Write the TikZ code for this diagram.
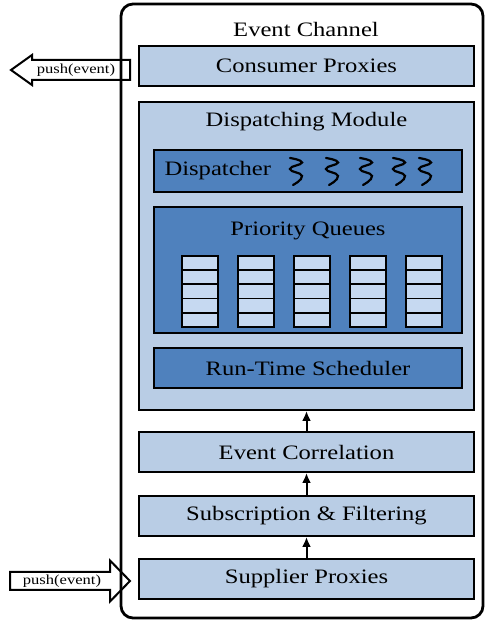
\documentclass[tikz,border=0pt]{standalone}
\usepackage{fontspec}
\setmainfont[FakeStretch=1.2]{Liberation Serif}
\usetikzlibrary{positioning,arrows.meta}
\definecolor{lightblue}{RGB}{185,205,229}
\definecolor{darkblue}{RGB}{79,129,189}
\definecolor{cellblue}{RGB}{198,217,241}
\newcommand{\bigfont}{\fontsize{20.5}{23}\selectfont}
\newcommand{\smallfont}{\fontsize{13.8}{16}\selectfont}
\tikzstyle{lightbox} = [draw=black, fill=lightblue, line width=2pt,
    rectangle, minimum width=335pt, minimum height=40pt, inner sep=0pt, font=\bigfont]
\tikzstyle{darkbox} = [draw=black, fill=darkblue, line width=2pt,
    rectangle, minimum width=308pt, minimum height=40pt, inner sep=0pt, font=\bigfont]
\tikzstyle{cell} = [draw=black, fill=cellblue, line width=1.8pt,
    minimum width=36pt, minimum height=14.2pt, inner sep=0pt]
\tikzstyle{thread} = [line width=2.2pt, line cap=round]
\tikzstyle{flow} = [-{Latex[length=10pt,width=9pt]}, line width=2pt]
\tikzstyle{pusharrow} = [draw=black, fill=white, line width=2pt, line join=miter]

\begin{document}
\begin{tikzpicture}[x=1pt, y=1pt]
    \useasboundingbox (0,0) rectangle (485,622);
    % push arrows
    \draw[pusharrow] (11,552) -- (32,567) -- (32,562) -- (130,562) -- (130,542)
        -- (32,542) -- (32,537) -- cycle;
    \node[font=\smallfont] (pushout) at (76,552) {push(event)};
    \draw[pusharrow] (130,41) -- (110,61.5) -- (110,50) -- (10,50) -- (10,32)
        -- (110,32) -- (110,20.5) -- cycle;
    \node[font=\smallfont] (pushin) at (62,41) {push(event)};
    % channel
    \draw[line width=2.8pt, rounded corners=12pt] (121,4) rectangle (483,618);
    \node[font=\bigfont] (channel) at (306,593) {Event Channel};
    \node[lightbox] (consumer) at (306.5,556) {Consumer Proxies};
    \node[lightbox, minimum height=308pt] (dispmod) at (306.5,366) {};
    \node[font=\bigfont] (dispmodtitle) at (306.5,500) {Dispatching Module};
    \node[darkbox, minimum height=42pt] (dispatcher) at (308,451) {};
    \node[font=\bigfont, anchor=west] (disptext) at (161,451) {Dispatcher};
    \foreach \x in {296,332,366,399,425}
        \draw[thread, shift={(\x,451)}] plot[smooth, tension=0.9]
            coordinates {(-6,13) (6,8.5) (-6,2) (6,-5) (-3,-14)};
    \node[darkbox, minimum height=126pt] (queues) at (308,352) {};
    \node[font=\bigfont] (queuetitle) at (308,391) {Priority Queues};
    \foreach \i in {0,...,4}
        \foreach \j in {0,...,4}
            \node[cell] (q\i\j) at (200+56*\i, 302.1+14.2*\j) {};
    \node[darkbox] (scheduler) at (308,254) {Run-Time Scheduler};
    \node[lightbox] (correlation) at (306.5,170) {Event Correlation};
    \node[lightbox] (filtering) at (306.5,106) {Subscription \& Filtering};
    \node[lightbox] (supplier) at (306.5,43) {Supplier Proxies};
    \draw[flow] (supplier.north) -- (filtering.south);
    \draw[flow] (filtering.north) -- (correlation.south);
    \draw[flow] (correlation.north) -- (dispmod.south);
\end{tikzpicture}
\end{document}
